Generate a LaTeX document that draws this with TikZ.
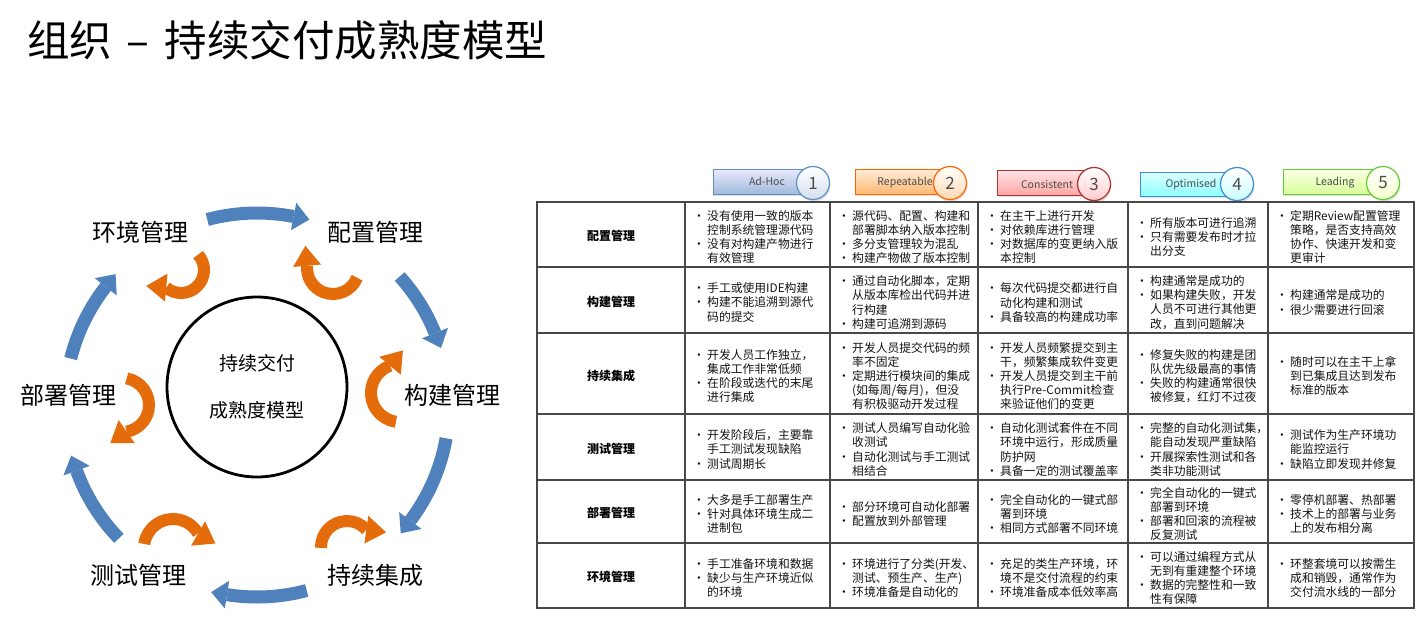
\documentclass[tikz,border=0pt]{standalone}
\usepackage{fontspec}
\setmainfont{Noto Sans CJK SC}
\usetikzlibrary{calc,shadows}
\definecolor{blueA}{HTML}{4F81BD}
\definecolor{orangeA}{HTML}{E46C0A}
\definecolor{gridc}{HTML}{484848}
\newcommand\B{\makebox[16pt][l]{\hspace{2pt}•}}
\newcommand\C{\hspace*{16pt}}
\newcommand\arcarrow[8]{%
  \draw[#1] ($(#2)+(#4:#3)$) arc[start angle=#4, end angle=#5, radius=#3];
  \coordinate (E) at ($(#2)+(#5:#3)$);
  \fill[#1] ($(E)+({#5+180+#6}:#7)$) -- ($(E)+({#5+90+#6}:#8)$) -- ($(E)+({#5+#6}:#7)$) -- cycle;
}
\tikzset{
  bluearc/.style={blueA, line width=13pt},
  orarc/.style={orangeA, line width=12pt},
  lab/.style={font=\fontsize{24}{28}\selectfont, inner sep=0pt},
  cell/.style={anchor=west, align=left, inner sep=0pt, text=black!92, font=\fontsize{11.8}{14.1}\selectfont},
  rowh/.style={inner sep=0pt, font=\fontsize{12}{14}\selectfont\bfseries},
  tag/.style={line width=1pt, drop shadow={opacity=0.25, shadow xshift=1pt, shadow yshift=-2pt}},
  tagtext/.style={inner sep=0pt, text=black!70, font=\fontsize{10.5}{12}\selectfont},
  numc/.style={circle, minimum size=33pt, inner sep=0pt, line width=1.2pt, text=black!70, font=\fontsize{17}{20}\selectfont, drop shadow={opacity=0.25, shadow xshift=1pt, shadow yshift=-2pt}},
  grid/.style={gridc, line width=1.5pt}
}
\begin{document}
\begin{tikzpicture}[x=1pt,y=-1pt]
\fill[white] (0,0) rectangle (1425,640);
\useasboundingbox (0,0) rectangle (1425,640);

% title
\node[anchor=west, inner sep=0pt, font=\fontsize{42.5}{48}\selectfont] (title) at (27,40) {组织\hspace{14pt}–\hspace{16pt}持续交付成熟度模型};

% ---------- cycle diagram ----------
\coordinate (O) at (257,405);
\node[draw, circle, line width=2.8pt, minimum size=180pt, align=center, inner sep=0pt,
      font=\fontsize{19}{47}\selectfont] (core) at (257,387) {持续交付\\成熟度模型};

\node[lab] (env) at (140,232) {环境管理};
\node[lab] (cfg) at (375,232) {配置管理};
\node[lab] (bld) at (452,395) {构建管理};
\node[lab] (ci)  at (375,575) {持续集成};
\node[lab] (tst) at (138,575) {测试管理};
\node[lab] (dep) at (68,395)  {部署管理};

% blue arcs
\arcarrow{bluearc}{O}{192}{255}{281}{0}{14}{16}
\arcarrow{bluearc}{O}{192}{318}{338}{0}{14}{16}
\arcarrow{bluearc}{O}{192}{10}{37}{0}{14}{16}
\arcarrow{bluearc}{O}{192}{75}{99}{0}{14}{16}
\arcarrow{bluearc}{O}{192}{136}{160}{0}{14}{16}
\arcarrow{bluearc}{O}{192}{194}{218}{0}{14}{16}

% orange circular arrows
\coordinate (oa) at (181,270);
\coordinate (ob) at (333,268);
\coordinate (oc) at (400,393);
\coordinate (od) at (347,547);
\coordinate (oe) at (173,548);
\coordinate (of) at (122,405);
\arcarrow{orarc}{oa}{23}{-42}{130}{-35}{14}{20}
\arcarrow{orarc}{ob}{26}{22}{185}{-10}{14}{20}
\arcarrow{orarc}{oc}{29}{98}{250}{-30}{14}{20}
\arcarrow{orarc}{od}{26}{178}{318}{-40}{14}{20}
\arcarrow{orarc}{oe}{29}{188}{330}{-30}{14}{20}
\arcarrow{orarc}{of}{27}{-80}{80}{-25}{14}{20}

% ---------- header tags ----------
\draw[tag, draw=blueA!90, top color=blue!8!white, bottom color=blueA!55!white] (713,169) rectangle (805,194);
\node[tagtext] (tg1) at (767,181) {Ad-Hoc};
\node[numc, draw=blueA!90, top color=white, bottom color=blueA!25!white] (n1) at (813,183) {1};

\draw[tag, draw=orange!80!red, top color=orange!15!white, bottom color=orange!55!white] (855,169) rectangle (940,194);
\node[tagtext] (tg2) at (905,183) {Repeatable};
\node[numc, draw=orange!80!red, top color=white, bottom color=orange!30!white] (n2) at (950,183) {2};

\draw[tag, draw=red!60!black!80, top color=red!10!white, bottom color=red!35!white] (997,170) rectangle (1085,195);
\node[tagtext] (tg3) at (1047,184) {Consistent};
\node[numc, draw=red!60!black!80, top color=white, bottom color=red!20!white] (n3) at (1094,184) {3};

\draw[tag, draw=cyan!60!blue!80, top color=cyan!12!white, bottom color=cyan!45!white] (1140,172) rectangle (1229,196);
\node[tagtext] (tg4) at (1191,185) {Optimised};
\node[numc, draw=cyan!60!blue!80, top color=white, bottom color=cyan!20!white] (n4) at (1237,184) {4};

\draw[tag, draw=green!50!olive!80, top color=green!10!yellow!10!white, bottom color=green!40!yellow!40!white] (1283,169) rectangle (1372,194);
\node[tagtext] (tg5) at (1335,183) {Leading};
\node[numc, draw=green!50!olive!80, top color=white, bottom color=green!20!yellow!20!white] (n5) at (1383,183) {5};

% ---------- table grid ----------
\draw[grid] (537,202) rectangle (1414,608);
\foreach \x in {685,830,978,1128,1268} \draw[grid] (\x,202) -- (\x,608);
\foreach \y in {267,333,414,480,543} \draw[grid] (537,\y) -- (1414,\y);

% row headers
\node[rowh] (h1) at (611,236) {配置管理};
\node[rowh] (h2) at (611,302) {构建管理};
\node[rowh] (h3) at (611,375.5) {持续集成};
\node[rowh] (h4) at (611,448.5) {测试管理};
\node[rowh] (h5) at (611,513) {部署管理};
\node[rowh] (h6) at (611,577) {环境管理};

% row 1
\node[cell] (c11) at (691,237) {\B 没有使用一致的版本\\\C 控制系统管理源代码\\\B 没有对构建产物进行\\\C 有效管理};
\node[cell] (c12) at (836,237) {\B 源代码、配置、构建和\\\C 部署脚本纳入版本控制\\\B 多分支管理较为混乱\\\B 构建产物做了版本控制};
\node[cell] (c13) at (984,237) {\B 在主干上进行开发\\\B 对依赖库进行管理\\\B 对数据库的变更纳入版\\\C 本控制};
\node[cell] (c14) at (1134,237) {\B 所有版本可进行追溯\\\B 只有需要发布时才拉\\\C 出分支};
\node[cell] (c15) at (1274,237) {\B 定期Review配置管理\\\C 策略，是否支持高效\\\C 协作、快速开发和变\\\C 更审计};

% row 2
\node[cell] (c21) at (691,302.5) {\B 手工或使用IDE构建\\\B 构建不能追溯到源代\\\C 码的提交};
\node[cell] (c22) at (836,302.5) {\B 通过自动化脚本，定期\\\C 从版本库检出代码并进\\\C 行构建\\\B 构建可追溯到源码};
\node[cell] (c23) at (984,302.5) {\B 每次代码提交都进行自\\\C 动化构建和测试\\\B 具备较高的构建成功率};
\node[cell] (c24) at (1134,302.5) {\B 构建通常是成功的\\\B 如果构建失败，开发\\\C 人员不可进行其他更\\\C 改，直到问题解决};
\node[cell] (c25) at (1274,302.5) {\B 构建通常是成功的\\\B 很少需要进行回滚};

% row 3
\node[cell] (c31) at (691,376) {\B 开发人员工作独立，\\\C 集成工作非常低频\\\B 在阶段或迭代的末尾\\\C 进行集成};
\node[cell] (c32) at (836,376) {\B 开发人员提交代码的频\\\C 率不固定\\\B 定期进行模块间的集成\\\C (如每周/每月)，但没\\\C 有积极驱动开发过程};
\node[cell] (c33) at (984,376) {\B 开发人员频繁提交到主\\\C 干，频繁集成软件变更\\\B 开发人员提交到主干前\\\C 执行Pre-Commit检查\\\C 来验证他们的变更};
\node[cell] (c34) at (1134,376) {\B 修复失败的构建是团\\\C 队优先级最高的事情\\\B 失败的构建通常很快\\\C 被修复，红灯不过夜};
\node[cell] (c35) at (1274,376) {\B 随时可以在主干上拿\\\C 到已集成且达到发布\\\C 标准的版本};

% row 4
\node[cell] (c41) at (691,449.5) {\B 开发阶段后，主要靠\\\C 手工测试发现缺陷\\\B 测试周期长};
\node[cell] (c42) at (836,449.5) {\B 测试人员编写自动化验\\\C 收测试\\\B 自动化测试与手工测试\\\C 相结合};
\node[cell] (c43) at (984,449.5) {\B 自动化测试套件在不同\\\C 环境中运行，形成质量\\\C 防护网\\\B 具备一定的测试覆盖率};
\node[cell] (c44) at (1134,449.5) {\B 完整的自动化测试集，\\\C 能自动发现严重缺陷\\\B 开展探索性测试和各\\\C 类非功能测试};
\node[cell] (c45) at (1274,449.5) {\B 测试作为生产环境功\\\C 能监控运行\\\B 缺陷立即发现并修复};

% row 5
\node[cell] (c51) at (691,514) {\B 大多是手工部署生产\\\B 针对具体环境生成二\\\C 进制包};
\node[cell] (c52) at (836,514) {\B 部分环境可自动化部署\\\B 配置放到外部管理};
\node[cell] (c53) at (984,514) {\B 完全自动化的一键式部\\\C 署到环境\\\B 相同方式部署不同环境};
\node[cell] (c54) at (1134,514) {\B 完全自动化的一键式\\\C 部署到环境\\\B 部署和回滚的流程被\\\C 反复测试};
\node[cell] (c55) at (1274,514) {\B 零停机部署、热部署\\\B 技术上的部署与业务\\\C 上的发布相分离};

% row 6
\node[cell] (c61) at (691,578) {\B 手工准备环境和数据\\\B 缺少与生产环境近似\\\C 的环境};
\node[cell] (c62) at (836,578) {\B 环境进行了分类(开发、\\\C 测试、预生产、生产)\\\B 环境准备是自动化的};
\node[cell] (c63) at (984,578) {\B 充足的类生产环境，环\\\C 境不是交付流程的约束\\\B 环境准备成本低效率高};
\node[cell] (c64) at (1134,578) {\B 可以通过编程方式从\\\C 无到有重建整个环境\\\B 数据的完整性和一致\\\C 性有保障};
\node[cell] (c65) at (1274,578) {\B 环整套境可以按需生\\\C 成和销毁，通常作为\\\C 交付流水线的一部分};
\end{tikzpicture}
\end{document}
